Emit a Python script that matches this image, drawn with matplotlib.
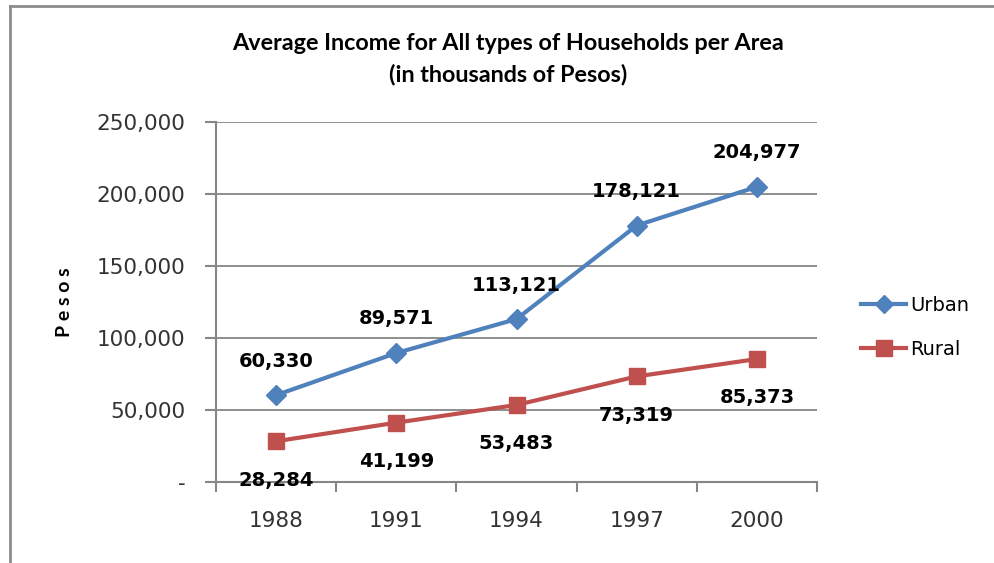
import numpy as np
import matplotlib.pyplot as plt
from matplotlib.lines import Line2D
from matplotlib.ticker import FuncFormatter

years = ["1988", "1991", "1994", "1997", "2000"]
urban = [60330, 89571, 113121, 178121, 204977]
rural = [28284, 41199, 53483, 73319, 85373]
y_ticks = [0, 50000, 100000, 150000, 200000, 250000]

blue = "#4F81BD"
red = "#C0504D"
grid_col = "#868686"

fig = plt.figure(figsize=(9.95, 5.63), dpi=100)
ax = fig.add_axes([0.2171, 0.1439, 0.604, 0.6394])

x = np.arange(len(years))
ax.plot(x, urban, color=blue, lw=3, marker="D", ms=10, zorder=3)
ax.plot(x, rural, color=red, lw=3, marker="s", ms=12, zorder=3)

for xi, v in zip(x, urban):
    ax.annotate(f"{v:,}", (xi, v), xytext=(0, 24.5), textcoords="offset points",
                ha="center", va="center", fontsize=14, fontweight="bold", color="black")
for xi, v in zip(x, rural):
    ax.annotate(f"{v:,}", (xi, v), xytext=(0, -28), textcoords="offset points",
                ha="center", va="center", fontsize=14, fontweight="bold", color="black")

ax.set_xlim(-0.5, len(years) - 0.5)
ax.set_ylim(0, 250000)
ax.set_yticks(y_ticks)
ax.yaxis.set_major_formatter(FuncFormatter(lambda v, p: "-" if v == 0 else f"{int(v):,}"))
ax.set_xticks(x)
ax.set_xticklabels(years)
ax.set_xticks(np.arange(-0.5, len(years)), minor=True)
ax.tick_params(axis="x", which="major", length=0, pad=21, labelsize=15.5, colors="#333333")
ax.tick_params(axis="x", which="minor", length=7, width=1.5, color=grid_col)
ax.tick_params(axis="y", length=8, width=1.5, color=grid_col, pad=14, labelsize=15.5,
               labelcolor="#333333")

ax.grid(axis="y", color=grid_col, lw=1.3)
ax.set_axisbelow(True)
for s in ["top", "right"]:
    ax.spines[s].set_visible(False)
for s in ["left", "bottom"]:
    ax.spines[s].set_color(grid_col)
    ax.spines[s].set_linewidth(1.5)

ax.set_ylabel("P e s o s", fontsize=14, fontweight="bold", family="Lato", labelpad=17)

fig.text(0.511, 0.922, "Average Income for All types of Households per Area",
         ha="center", va="center", fontsize=16.8, fontweight="bold", family="Lato")
fig.text(0.511, 0.867, "(in thousands of Pesos)",
         ha="center", va="center", fontsize=16.8, fontweight="bold", family="Lato")

handles = [Line2D([], [], color=blue, lw=3, marker="D", ms=9),
           Line2D([], [], color=red, lw=3, marker="s", ms=11)]
fig.legend(handles, ["Urban", "Rural"], loc="center left", bbox_to_anchor=(0.848, 0.418),
           frameon=False, handlelength=2.3, handletextpad=0.2,
           labelspacing=1.3, prop={"family": "DejaVu Sans", "size": 14})

# chart border (left and top edges visible)
fig.add_artist(Line2D([10 / 995, 10 / 995], [0, 1 - 6 / 563], color="#8c8c8c", lw=2,
                      transform=fig.transFigure))
fig.add_artist(Line2D([10 / 995, 1], [1 - 6 / 563, 1 - 6 / 563], color="#8c8c8c", lw=2,
                      transform=fig.transFigure))

fig.savefig("out.png", dpi=100)
